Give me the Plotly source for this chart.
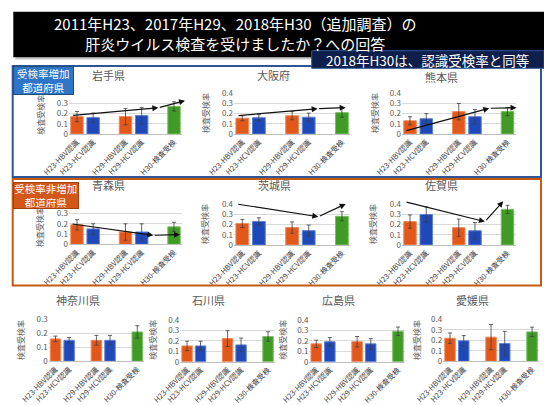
import plotly.graph_objects as go

W, H = 544, 405
FONT = "Noto Sans CJK JP"

# ---- data -------------------------------------------------------------
CATEGORY_GROUPS = [["H23-HBV認識", "H23-HCV認識"],
                   ["H29-HBV認識", "H29-HCV認識"],
                   ["H30-検査受検"]]

PREFECTURES = ["岩手県", "大阪府", "熊本県",
               "青森県", "茨城県", "佐賀県",
               "神奈川県", "石川県", "広島県", "愛媛県"]

# 検査受検率 (H23-HBV, H23-HCV, H29-HBV, H29-HCV, H30) and error half-widths
RATE_IWATE = [0.17, 0.16, 0.17, 0.18, 0.27]
ERR_IWATE = [0.05, 0.045, 0.08, 0.08, 0.045]
RATE_OSAKA = [0.155, 0.16, 0.18, 0.165, 0.21]
ERR_OSAKA = [0.025, 0.03, 0.04, 0.04, 0.045]
RATE_KUMAMOTO = [0.13, 0.15, 0.22, 0.17, 0.22]
ERR_KUMAMOTO = [0.04, 0.05, 0.08, 0.07, 0.04]
RATE_AOMORI = [0.19, 0.15, 0.12, 0.12, 0.17]
ERR_AOMORI = [0.05, 0.05, 0.08, 0.08, 0.045]
RATE_IBARAKI = [0.21, 0.23, 0.17, 0.14, 0.28]
ERR_IBARAKI = [0.04, 0.035, 0.055, 0.055, 0.045]
RATE_SAGA = [0.23, 0.30, 0.17, 0.14, 0.35]
ERR_SAGA = [0.065, 0.075, 0.085, 0.08, 0.04]
RATE_KANAGAWA = [0.16, 0.15, 0.15, 0.15, 0.21]
ERR_KANAGAWA = [0.02, 0.02, 0.035, 0.035, 0.045]
RATE_ISHIKAWA = [0.15, 0.15, 0.22, 0.16, 0.24]
ERR_ISHIKAWA = [0.045, 0.045, 0.075, 0.065, 0.045]
RATE_HIROSHIMA = [0.17, 0.19, 0.19, 0.17, 0.29]
ERR_HIROSHIMA = [0.035, 0.04, 0.05, 0.05, 0.04]
RATE_EHIME = [0.22, 0.195, 0.23, 0.17, 0.28]
ERR_EHIME = [0.05, 0.05, 0.12, 0.115, 0.045]

RATES = [RATE_IWATE, RATE_OSAKA, RATE_KUMAMOTO, RATE_AOMORI, RATE_IBARAKI,
         RATE_SAGA, RATE_KANAGAWA, RATE_ISHIKAWA, RATE_HIROSHIMA, RATE_EHIME]
ERRS = [ERR_IWATE, ERR_OSAKA, ERR_KUMAMOTO, ERR_AOMORI, ERR_IBARAKI,
        ERR_SAGA, ERR_KANAGAWA, ERR_ISHIKAWA, ERR_HIROSHIMA, ERR_EHIME]

# trend arrows (category-position, rate) H23 -> H29 -> H30
TREND_X = {0: [-0.33, 5.03, 6.68], 1: [-0.32, 4.54, 6.23], 2: [-0.31, 4.88, 6.56],
           3: [-0.37, 4.72, 6.37], 4: [-0.34, 4.58, 6.23], 5: [-0.31, 4.61, 5.74]}
TREND_Y = {0: [0.18, 0.257, 0.326], 1: [0.18, 0.249, 0.259], 2: [0.03, 0.253, 0.259],
           3: [0.20, 0.088, 0.095], 4: [0.40, 0.276, 0.40], 5: [0.425, 0.23, 0.43]}

Y_MAX = [0.4, 0.4, 0.4, 0.4, 0.4, 0.4, 0.3, 0.4, 0.4, 0.4]
Y_TICKS = [0, 0.1, 0.2, 0.3, 0.4]

# ---- layout geometry (pixels) -----------------------------------------
# plot area: left, right, top, bottom
PLOT_BOX = [(68.9, 182.1, 93.1, 134.0), (234.0, 350.2, 93.3, 134.0), (401.9, 515.6, 93.3, 134.0),
            (68.9, 182.1, 203.3, 244.3), (234.0, 350.2, 204.0, 245.0), (401.9, 515.6, 204.3, 245.0),
            (48.7, 144.1, 319.4, 361.2), (180.3, 274.8, 319.7, 361.7),
            (309.4, 404.8, 319.7, 361.7), (443.2, 538.9, 319.3, 361.3)]
TITLE_POS = [(108, 75), (273, 75), (441, 77.5), (108, 185), (274, 185), (441, 185),
             (78, 300), (208.5, 300), (338, 300), (472, 300)]
YTITLE_POS = [(40.7, 115), (205, 113), (374, 113), (40, 227), (205, 224), (373, 224),
              (20, 340), (151.7, 340), (281.7, 340), (416, 340)]
# panels whose top tick label sits under a group label box
COVERED_TOP_TICK = {0, 3}

ORANGE, BLUE, GREEN = "#E2571A", "#1F48B8", "#3F9A26"
EDGE = {ORANGE: "#F08A5A", BLUE: "#5F80D8", GREEN: "#79BF5E"}


def px(x):
    return x / W


def py(y):
    return 1 - y / H


def label(x, y, text, size, color, angle=0, **extra):
    d = dict(x=px(x), y=py(y), xref="paper", yref="paper", text=text,
             xanchor="center", yanchor="middle", textangle=angle, showarrow=False,
             font=dict(family=FONT, size=size, color=color))
    d.update(extra)
    return d


# category positions with one empty slot between survey groups
positions, labels, colors = [], [], []
slot = 0
for group in CATEGORY_GROUPS:
    for name in group:
        positions.append(slot)
        labels.append(name)
        colors.append(GREEN if "H30" in name else (ORANGE if "HBV" in name else BLUE))
        slot += 1
    slot += 1
n_slots = slot - 1

fig = go.Figure()
annotations = []
layout_axes = {}

for i, pref in enumerate(PREFECTURES):
    k = "" if i == 0 else str(i + 1)
    xa, ya = "x" + k, "y" + k
    l, r, t, b = PLOT_BOX[i]
    fig.add_trace(go.Bar(
        x=positions, y=RATES[i], xaxis=xa, yaxis=ya, width=0.77,
        marker=dict(color=colors, line=dict(color=[EDGE[c] for c in colors], width=1)),
        error_y=dict(type="data", array=ERRS[i], color="#404040", thickness=0.8, width=2),
        showlegend=False, hoverinfo="skip"))
    yvals = [v for v in Y_TICKS if v <= Y_MAX[i] + 1e-9]
    ytext = ["0" if v == 0 else f"{v:.1f}" for v in yvals]
    if i in COVERED_TOP_TICK:
        ytext[-1] = ""
    layout_axes["xaxis" + k] = dict(
        domain=[px(l), px(r)], anchor=ya, range=[-0.5, n_slots - 0.5],
        tickvals=positions, ticktext=labels, tickangle=-45,
        tickfont=dict(family=FONT, size=7.5, color="#404040"),
        showgrid=False, showline=True, linecolor="#BFBFBF", linewidth=1,
        ticks="", zeroline=False, automargin=False, fixedrange=True)
    layout_axes["yaxis" + k] = dict(
        domain=[py(b), py(t)], anchor=xa, range=[0, Y_MAX[i]],
        tickvals=yvals, ticktext=ytext,
        tickfont=dict(family=FONT, size=8, color="#595959"),
        showgrid=True, gridcolor="#D9D9D9", gridwidth=1, zeroline=False,
        showline=False, ticks="", automargin=False, fixedrange=True)

    tx, ty = TITLE_POS[i]
    annotations.append(label(tx, ty, pref, 11, "#595959"))
    yx, yy = YTITLE_POS[i]
    annotations.append(label(yx, yy, "検査受検率", 8, "#595959", -90))
    # trend arrows
    if i in TREND_X:
        xs, ys = TREND_X[i], TREND_Y[i]
        for s in range(len(xs) - 1):
            annotations.append(dict(
                x=xs[s + 1], y=ys[s + 1], ax=xs[s], ay=ys[s],
                xref=xa, yref=ya, axref=xa, ayref=ya, text="",
                showarrow=True, arrowhead=2, arrowsize=1, arrowwidth=1.2,
                arrowcolor="#111111", standoff=0))


def rect(x0, x1, y0, y1, fill, line_color=None, line_width=0, layer="above"):
    return dict(type="rect", xref="paper", yref="paper",
                x0=px(x0), x1=px(x1), y0=py(y1), y1=py(y0), fillcolor=fill,
                line=dict(color=line_color or fill, width=line_width), layer=layer)


shapes = [
    rect(15.5, 546, 14, 59.5, "#C8C8C8", layer="below"),           # banner shadow
    rect(13.3, 544, 11.7, 57.3, "#000000", layer="below"),         # title banner
    rect(12.7, 541, 66, 177, "rgba(0,0,0,0)", "#2F5597", 2),        # increase group frame
    rect(12.7, 541, 179, 285.5, "rgba(0,0,0,0)", "#C55A11", 2),     # non-increase group frame
    rect(311.7, 544, 50.7, 68.3, "#0F1F4B", "#2F5597", 1),          # note banner
]

annotations += [
    label(235.5, 34, "2011年H23、2017年H29、2018年H30（追加調査）の<br>"
                     "肝炎ウイルス検査を受けましたか？への回答", 15, "#FFFFFF"),
    label(427, 59.5, "2018年H30は、認識受検率と同等", 13.5, "#FFFFFF"),
    # group label boxes, drawn last so they sit on top of the panels
    label(43, 80.5, "受検率増加<br>都道府県", 10.5, "#FFFFFF",
          bgcolor="#2E75C6", bordercolor="#1F4E79", borderwidth=1, borderpad=0,
          width=58.6, height=27, align="center"),
    label(45.5, 195.8, "受検率非増加<br>都道府県", 10.5, "#FFFFFF",
          bgcolor="#D4571A", bordercolor="#A0400E", borderwidth=1, borderpad=0,
          width=63.6, height=24.6, align="center"),
]

fig.update_layout(
    width=W, height=H, margin=dict(l=0, r=0, t=0, b=0, pad=0, autoexpand=False),
    paper_bgcolor="#FFFFFF", plot_bgcolor="#FFFFFF",
    font=dict(family=FONT), shapes=shapes, annotations=annotations,
    **layout_axes)

fig.write_html("out.html", config={"displayModeBar": False})
